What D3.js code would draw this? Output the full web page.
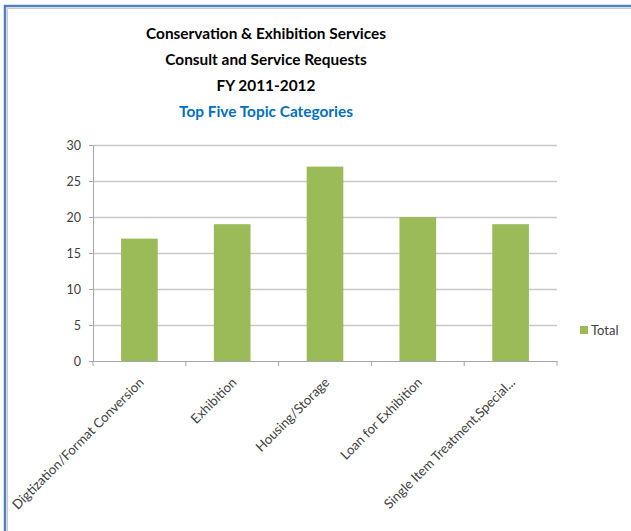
<!DOCTYPE html>
<html>
<head>
<meta charset="utf-8">
<script src="https://cdn.jsdelivr.net/npm/d3@7"></script>
<style>
  html, body { margin: 0; padding: 0; background: #fff; }
  svg { display: block; }
  text { font-family: Lato, "Open Sans", sans-serif; }
</style>
</head>
<body>
<svg id="chart" width="631" height="531"></svg>
<script>
// Request counts by topic, FY 2011-2012
const categories = [
  "Digtization/Format Conversion",
  "Exhibition",
  "Housing/Storage",
  "Loan for Exhibition",
  "Single Item Treatment,Special..."
];
const totals = [17, 19, 27, 20, 19];
const yTicks = [0, 5, 10, 15, 20, 25, 30];
const titleLines = [
  "Conservation & Exhibition Services",
  "Consult and Service Requests",
  "FY 2011-2012"
];
const subtitle = "Top Five Topic Categories";
const seriesName = "Total";

const svg = d3.select("#chart");
const W = 631, H = 531;

// Plot area
const plot = { left: 93, right: 557, top: 145, bottom: 361 };
const barColor = "#9bbb59";
const gridColor = "#c8c8c8";
const axisColor = "#a6a6a6";
const labelColor = "#404040";

// Chart frame (top and left edges visible)
svg.append("rect")
  .attr("x", 5).attr("y", 6)
  .attr("width", W + 20).attr("height", H + 20)
  .attr("fill", "none")
  .attr("stroke", "#4f81bd")
  .attr("stroke-width", 2.5);
svg.append("path")
  .attr("d", `M7.5,${H} V8.5 H${W}`)
  .attr("fill", "none")
  .attr("stroke", "#c9c9c9")
  .attr("stroke-width", 1);

// Titles
const titleX = 266;
const titleSize = 15.4;
const titleBaselines = [39, 65, 90.5];
svg.selectAll("text.title")
  .data(titleLines)
  .join("text")
  .attr("class", "title")
  .attr("x", titleX)
  .attr("y", (d, i) => titleBaselines[i])
  .attr("text-anchor", "middle")
  .attr("font-size", titleSize)
  .attr("font-weight", "bold")
  .attr("fill", "#000")
  .text(d => d);
svg.append("text")
  .attr("x", titleX)
  .attr("y", 116.5)
  .attr("text-anchor", "middle")
  .attr("font-size", titleSize)
  .attr("font-weight", "bold")
  .attr("fill", "#0070c0")
  .text(subtitle);

// Scales
const x = d3.scaleBand()
  .domain(categories)
  .range([plot.left, plot.right])
  .padding(0);
const y = d3.scaleLinear()
  .domain([0, 30])
  .range([plot.bottom, plot.top]);

// Horizontal gridlines
svg.append("g")
  .attr("transform", `translate(${plot.left},0)`)
  .call(d3.axisLeft(y).tickValues(yTicks.filter(v => v > 0)).tickSize(-(plot.right - plot.left)).tickFormat(""))
  .call(g => g.select(".domain").remove())
  .call(g => g.selectAll("line").attr("stroke", gridColor).attr("stroke-width", 1.3));

// Y axis
svg.append("g")
  .attr("transform", `translate(${plot.left},0)`)
  .call(d3.axisLeft(y).tickValues(yTicks).tickSize(4).tickPadding(8))
  .call(g => g.select(".domain").attr("stroke", axisColor))
  .call(g => g.selectAll("line").attr("stroke", axisColor))
  .call(g => g.selectAll("text")
    .attr("font-size", 12.5)
    .attr("fill", labelColor)
    .attr("font-family", "Lato, sans-serif"));

// Bars
const barFrac = 0.395;
svg.append("g")
  .selectAll("rect")
  .data(categories.map((c, i) => ({ c, v: totals[i] })))
  .join("rect")
  .attr("x", d => x(d.c) + x.bandwidth() * (1 - barFrac) / 2)
  .attr("width", x.bandwidth() * barFrac)
  .attr("y", d => y(d.v))
  .attr("height", d => y(0) - y(d.v))
  .attr("fill", barColor);

// X axis line and boundary ticks
const xAxis = svg.append("g")
  .attr("transform", `translate(0,${plot.bottom})`)
  .call(d3.axisBottom(x).tickSize(0).tickFormat(""));
xAxis.select(".domain").attr("stroke", axisColor);
const boundaries = categories.map(c => x(c)).concat([x.range()[1]]);
xAxis.selectAll("line.boundary")
  .data(boundaries)
  .join("line")
  .attr("class", "boundary")
  .attr("x1", d => d).attr("x2", d => d)
  .attr("y1", 0).attr("y2", 5)
  .attr("stroke", axisColor);

// Rotated category labels
svg.append("g")
  .selectAll("text")
  .data(categories)
  .join("text")
  .attr("transform", d => `translate(${x(d) + x.bandwidth() / 2 + 2},${plot.bottom + 19}) rotate(-45)`)
  .attr("text-anchor", "end")
  .attr("dy", "0.35em")
  .attr("font-size", 13.2)
  .attr("fill", labelColor)
  .text(d => d);

// Legend
const legend = svg.append("g").attr("transform", "translate(580,326)");
legend.append("rect")
  .attr("width", 8).attr("height", 8)
  .attr("fill", barColor);
legend.append("text")
  .attr("x", 11).attr("y", 4)
  .attr("dy", "0.35em")
  .attr("font-size", 13)
  .attr("fill", labelColor)
  .text(seriesName);
</script>
</body>
</html>
